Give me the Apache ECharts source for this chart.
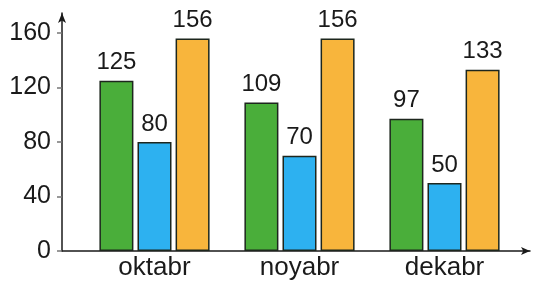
<!DOCTYPE html>
<html lang="en">
<head>
    <meta charset="UTF-8">
    <title>oktabr noyabr dekabr</title>
    <script src="https://cdn.jsdelivr.net/npm/echarts@6/dist/echarts.min.js"></script>
    <style>
        html, body { margin: 0; padding: 0; background: #fff; }
    </style>
</head>
<body>
    <div id="chart" style="width:536px;height:283px;"></div>
    <script>
        // data
        var months = ['oktabr', 'noyabr', 'dekabr'];
        var greenVals = [125, 109, 97];
        var blueVals = [80, 70, 50];
        var orangeVals = [156, 156, 133];
        var yTicks = [0, 40, 80, 120, 160];

        var font = 'Liberation Sans, Arial, sans-serif';
        var chart = echarts.init(document.getElementById('chart'));

        function barSeries(vals, color) {
            return {
                type: 'bar',
                xAxisIndex: 1,
                yAxisIndex: 1,
                data: vals,
                barWidth: 34,
                barGap: '12%',
                itemStyle: { color: color, borderColor: '#1d261d', borderWidth: 1.5 },
                label: {
                    show: true,
                    position: 'top',
                    distance: 6,
                    color: '#1a1a1a',
                    fontSize: 24,
                    fontFamily: font
                },
                silent: true
            };
        }

        var option = {
            backgroundColor: '#fff',
            animation: false,
            grid: [
                // axis lines with arrows
                { left: 62, right: 6, top: 13, bottom: 32 },
                // bars
                { left: 82, right: 19, top: 33, bottom: 32 }
            ],
            xAxis: [
                {
                    gridIndex: 0, type: 'value', min: 0, max: 1,
                    axisLine: { show: true, symbol: ['none', 'arrow'], symbolSize: [6, 9], lineStyle: { color: '#1a1a1a', width: 1.5 } },
                    axisTick: { show: false }, axisLabel: { show: false }, splitLine: { show: false }
                },
                {
                    gridIndex: 1, type: 'category', data: months,
                    axisLine: { show: false }, axisTick: { show: false },
                    axisLabel: { color: '#1a1a1a', fontSize: 26, fontFamily: font, margin: 4 }
                }
            ],
            yAxis: [
                {
                    gridIndex: 0, type: 'value', min: 0, max: 1,
                    axisLine: { show: true, symbol: ['none', 'arrow'], symbolSize: [6, 10], lineStyle: { color: '#1a1a1a', width: 1.5 } },
                    axisTick: { show: false }, axisLabel: { show: false }, splitLine: { show: false }
                },
                {
                    gridIndex: 1, type: 'value',
                    min: yTicks[0], max: yTicks[yTicks.length - 1], interval: 40,
                    offset: 20,
                    axisLine: { show: false },
                    axisTick: { show: true, length: 5, lineStyle: { color: '#777', width: 1.5 } },
                    axisLabel: { color: '#1a1a1a', fontSize: 25, fontFamily: font, margin: 11 },
                    splitLine: { show: false }
                }
            ],
            series: [
                barSeries(greenVals, '#4aae3a'),
                barSeries(blueVals, '#2db1f0'),
                barSeries(orangeVals, '#f8b53c')
            ]
        };

        chart.setOption(option);
    </script>
</body>
</html>
